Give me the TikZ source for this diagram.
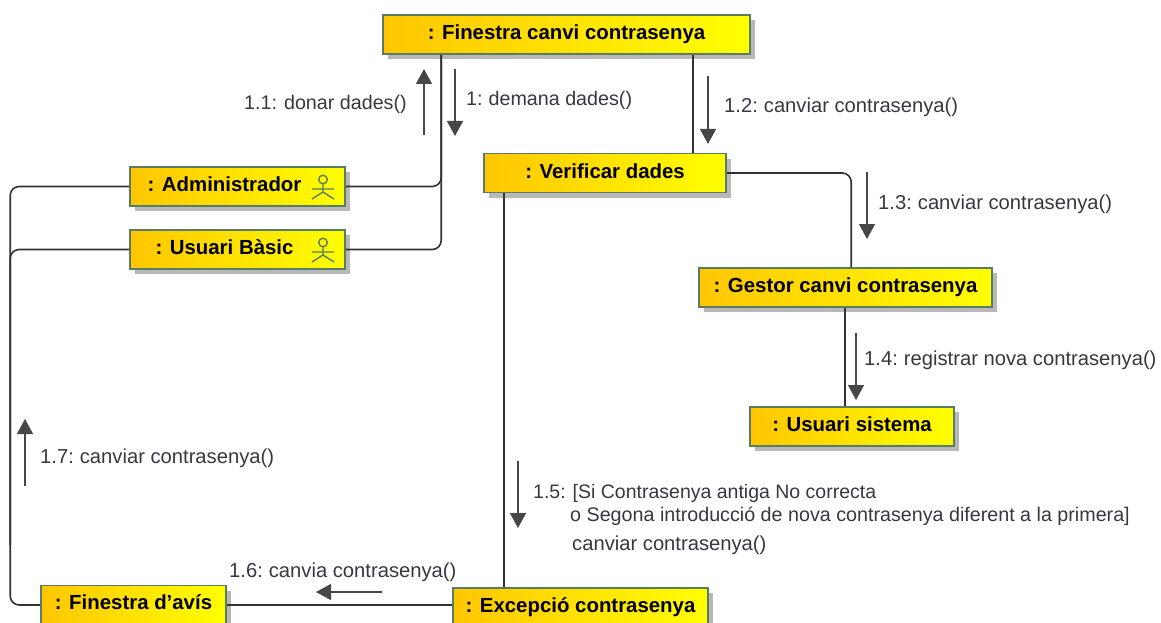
\documentclass[tikz,border=0pt]{standalone}
\usepackage{fontspec}
\setmainfont{Liberation Sans}
\usetikzlibrary{arrows.meta,shadows,calc}
\definecolor{edgegreen}{RGB}{88,125,100}
\definecolor{lineink}{RGB}{50,50,50}
\definecolor{msgink}{RGB}{55,55,65}
\definecolor{boxorange}{RGB}{255,198,0}
\tikzset{
  umlbox/.style={draw=edgegreen,line width=1.6pt,left color=boxorange,right color=yellow,
    inner sep=0pt,minimum height=39pt,font=\fontsize{20.4}{24}\selectfont\bfseries,
    general shadow={shadow xshift=5pt,shadow yshift=-5pt,fill=black!28,draw=none}},
  link/.style={draw=lineink,line width=1.6pt,rounded corners=9pt},
  msg/.style={draw=lineink!90,line width=1.3pt,-{Triangle[width=16pt,length=15pt]}},
  msglabel/.style={inner sep=0pt,anchor=west,text=msgink,font=\fontsize{20.2}{24}\selectfont},
  msgtight/.style={msglabel,font=\fontsize{19.7}{24}\selectfont},
  actorink/.style={draw=edgegreen,line width=1.4pt},
  actor/.pic={
    \draw[actorink] (0,-7.5) circle (4.3);
    \draw[actorink] (0,-3.2) -- (0,5) (-11,2) -- (11,2) (0,5) -- (-11,12) (0,5) -- (11,12);
  }
}
\newcommand{\boxtext}[2][4pt]{\raisebox{#1}{#2}}
\begin{document}
\begin{tikzpicture}[x=1pt,y=-1pt]
\useasboundingbox (0,0) rectangle (1161,623);
\clip (0,0) rectangle (1161,623);
% nodes
\node[umlbox,minimum width=367pt] (fin) at (566.5,34.5) {\boxtext{: Finestra canvi contrasenya}};
\node[umlbox,minimum width=242pt] (ver) at (605,173) {\boxtext{: Verificar dades}};
\node[umlbox,minimum width=215pt] (adm) at (237.5,186.5) {\boxtext[5pt]{: Administrador}\hspace*{26pt}};
\node[umlbox,minimum width=215pt] (bas) at (237.5,249.5) {\boxtext{: Usuari Bàsic}\hspace*{26pt}};
\node[umlbox,minimum width=293pt] (ges) at (845.5,287.5) {\boxtext{: Gestor canvi contrasenya}};
\node[umlbox,minimum width=204pt] (sis) at (852,426.5) {\boxtext[5pt]{: Usuari sistema}};
\node[umlbox,minimum width=185pt] (avi) at (133.5,605) {\boxtext[5.5pt]{: Finestra d'avís}};
\node[umlbox,minimum width=255pt] (exc) at (580.5,607.5) {\boxtext{: Excepció contrasenya}};
\pic at (323,187) {actor};
\pic at (323,250) {actor};
% connectors
\coordinate (finleg) at ($(fin.south west)+(59,0)$);
\coordinate (avileft) at ($(avi.west)+(-30,0)$);
\coordinate (bastee) at ($(avileft)+(0,-60)$);
\draw[link] (finleg) |- (bas.east);
\draw[link] (adm.east) -| (finleg);
\draw[link] (adm.west) -- (adm.west -| avileft) -- (avileft) -- (avi.west);
\draw[link] (bas.west) -| (bastee);
\draw[link] ($(fin.south west)+(311,0)$) -- ($(ver.north west)+(210,0)$);
\draw[link] (ver.east) -| ($(ges.north west)+(153,0)$);
\draw[link] ($(ges.south west)+(147,0)$) -- ($(sis.north west)+(96,0)$);
\draw[link] ($(ver.south west)+(21,0)$) -- ($(exc.north west)+(52,0)$);
\draw[link] (exc.west |- avi.east) -- (avi.east);
% message arrows
\coordinate (m11a) at (424,135); \coordinate (m11b) at (424,69);
\coordinate (m1a) at (455,69); \coordinate (m1b) at (455,136);
\coordinate (m12a) at (708,76); \coordinate (m12b) at (708,144);
\coordinate (m13a) at (867,172); \coordinate (m13b) at (867,239);
\coordinate (m14a) at (856,333); \coordinate (m14b) at (856,400);
\coordinate (m15a) at (518,461); \coordinate (m15b) at (518,528);
\coordinate (m16a) at (382,592); \coordinate (m16b) at (316,592);
\coordinate (m17a) at (25,486); \coordinate (m17b) at (25,419);
\draw[msg] (m11a) -- (m11b);
\draw[msg] (m1a) -- (m1b);
\draw[msg] (m12a) -- (m12b);
\draw[msg] (m13a) -- (m13b);
\draw[msg] (m14a) -- (m14b);
\draw[msg] (m15a) -- (m15b);
\draw[msg] (m16a) -- (m16b);
\draw[msg] (m17a) -- (m17b);
% labels
\node[msgtight] (l11) at (244,104) {1.1:\hspace{7pt}donar dades()};
\node[msgtight] (l1) at (466,100) {1:\hspace{6pt}demana dades()};
\node[msglabel] (l12) at (724,107) {1.2:\hspace{6pt}canviar contrasenya()};
\node[msglabel] (l13) at (878,204) {1.3:\hspace{6pt}canviar contrasenya()};
\node[msglabel] (l14) at (864,360) {1.4:\hspace{6pt}registrar nova contrasenya()};
\node[msgtight,font=\fontsize{19.5}{24}\selectfont] (l15a) at (533,493) {1.5:\hspace{7pt}[Si Contrasenya antiga No correcta};
\node[msgtight] (l15b) at (570,516) {o Segona introducció de nova contrasenya diferent a la primera]};
\node[msglabel] (l15c) at (572,545) {canviar contrasenya()};
\node[msglabel] (l16) at (229,572) {1.6:\hspace{6pt}canvia contrasenya()};
\node[msglabel] (l17) at (40,458) {1.7:\hspace{6pt}canviar contrasenya()};
\end{tikzpicture}
\end{document}
